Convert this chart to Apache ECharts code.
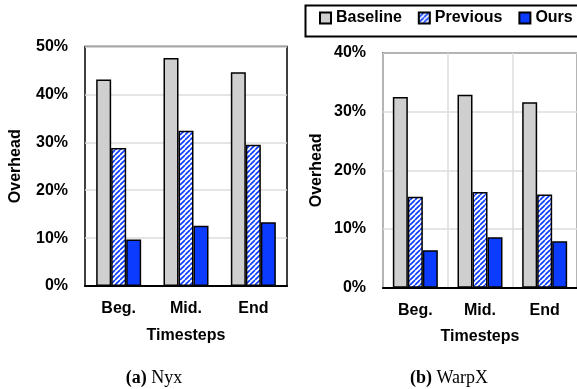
<!DOCTYPE html>
<html>
<head>
<meta charset="utf-8">
<script src="https://cdn.jsdelivr.net/npm/echarts@6/dist/echarts.min.js"></script>
<style>
  html, body { margin: 0; padding: 0; background: #fff; }
  #chart { width: 577px; height: 389px; }
</style>
</head>
<body>
<div id="chart"></div>
<script>
// Timestep categories shared by both panels
const categories = ['Beg.', 'Mid.', 'End'];

// Overhead (%) for the Nyx panel
const nyxBaseline = [43.1, 47.6, 44.6];
const nyxPrevious = [28.8, 32.4, 29.5];
const nyxOurs = [9.7, 12.6, 13.3];

// Overhead (%) for the WarpX panel
const warpxBaseline = [32.5, 32.9, 31.6];
const warpxPrevious = [15.5, 16.3, 15.9];
const warpxOurs = [6.4, 8.6, 7.9];

// Y tick ranges
const nyxTicks = { min: 0, max: 50, interval: 10 };
const warpxTicks = { min: 0, max: 40, interval: 10 };

const BLUE = '#0a3bff';
const GRAY = '#cfcfcf';
const FONT = '"Liberation Sans", Arial, sans-serif';
const SERIF = '"Liberation Serif", "DejaVu Serif", serif';

// Diagonal hatch used for the "Previous" bars
function hatch() {
  const s = 5;
  const c = document.createElement('canvas');
  c.width = s; c.height = s;
  const g = c.getContext('2d');
  g.fillStyle = '#ffffff';
  g.fillRect(0, 0, s, s);
  g.strokeStyle = BLUE;
  g.lineWidth = 1.7;
  for (const x0 of [-s, 0, s]) {
    g.beginPath();
    g.moveTo(x0, s);
    g.lineTo(x0 + s, 0);
    g.stroke();
  }
  return { image: c, repeat: 'repeat' };
}
const hatchFill = hatch();

const edge = { borderColor: '#000', borderWidth: 1.5 };
const styles = {
  Baseline: Object.assign({ color: GRAY }, edge),
  Previous: Object.assign({ color: hatchFill }, edge),
  Ours: Object.assign({ color: BLUE }, edge)
};

function bars(idx, base, prev, ours) {
  return [['Baseline', base], ['Previous', prev], ['Ours', ours]].map(([name, data]) => ({
    name, type: 'bar', data,
    xAxisIndex: idx, yAxisIndex: idx,
    barWidth: 15, barGap: '0%',
    itemStyle: styles[name]
  }));
}

const labelText = { color: '#000', fontFamily: FONT, fontWeight: 'bold', fontSize: 16 };

function xAxis(idx, vsplit, nameGap) {
  return {
    type: 'category', gridIndex: idx, data: categories,
    axisLine: { show: true, lineStyle: { color: '#000', width: 2 } },
    axisTick: { show: false },
    axisLabel: Object.assign({ margin: 15 }, labelText),
    splitLine: { show: vsplit, lineStyle: { color: '#dcdcdc', width: 1.5 } },
    name: 'Timesteps', nameLocation: 'middle', nameGap: nameGap,
    nameTextStyle: labelText
  };
}

function yAxis(idx, ticks, nameGap) {
  return {
    type: 'value', gridIndex: idx,
    min: ticks.min, max: ticks.max, interval: ticks.interval,
    axisLine: { show: false }, axisTick: { show: false },
    axisLabel: Object.assign({ margin: 17, formatter: '{value}%' }, labelText),
    splitLine: { show: true, lineStyle: { color: '#dcdcdc', width: 1.5 } },
    name: 'Overhead', nameLocation: 'middle', nameGap: nameGap,
    nameTextStyle: labelText
  };
}

const captionRich = {
  b: { fontFamily: SERIF, fontWeight: 'bold', fontSize: 18, color: '#000' },
  n: { fontFamily: SERIF, fontWeight: 'normal', fontSize: 18, color: '#000' }
};

const chart = echarts.init(document.getElementById('chart'), null, { renderer: 'canvas' });
chart.setOption({
  animation: false,
  backgroundColor: '#fff',
  title: [
    { text: '{b|(a)}{n| Nyx}', left: 149, top: 364, textAlign: 'center',
      textStyle: { fontWeight: 'normal', rich: captionRich } },
    { text: '{b|(b)}{n| WarpX}', left: 444, top: 364, textAlign: 'center',
      textStyle: { fontWeight: 'normal', rich: captionRich } }
  ],
  legend: {
    data: ['Baseline', 'Previous', 'Ours'],
    left: 319, top: 10,
    itemWidth: 11, itemHeight: 11, itemGap: 16,
    icon: 'rect',
    textStyle: labelText,
    padding: 0
  },
  graphic: [{
    type: 'rect', left: 303, top: 3,
    shape: { width: 300, height: 31 },
    style: { fill: 'none', stroke: '#000', lineWidth: 2 },
    silent: true
  }],
  grid: [
    { left: 85, top: 46.5, width: 202, bottom: 103, show: true, borderColor: '#000', borderWidth: 1.5, backgroundColor: 'transparent' },
    { left: 383, top: 53, right: -4, bottom: 101.3, show: true, borderColor: '#000', borderWidth: 1.5, backgroundColor: 'transparent' }
  ],
  xAxis: [xAxis(0, false, 42), xAxis(1, true, 41)],
  yAxis: [yAxis(0, nyxTicks, 61), yAxis(1, warpxTicks, 58)],
  series: [].concat(
    bars(0, nyxBaseline, nyxPrevious, nyxOurs),
    bars(1, warpxBaseline, warpxPrevious, warpxOurs)
  )
});
</script>
</body>
</html>
